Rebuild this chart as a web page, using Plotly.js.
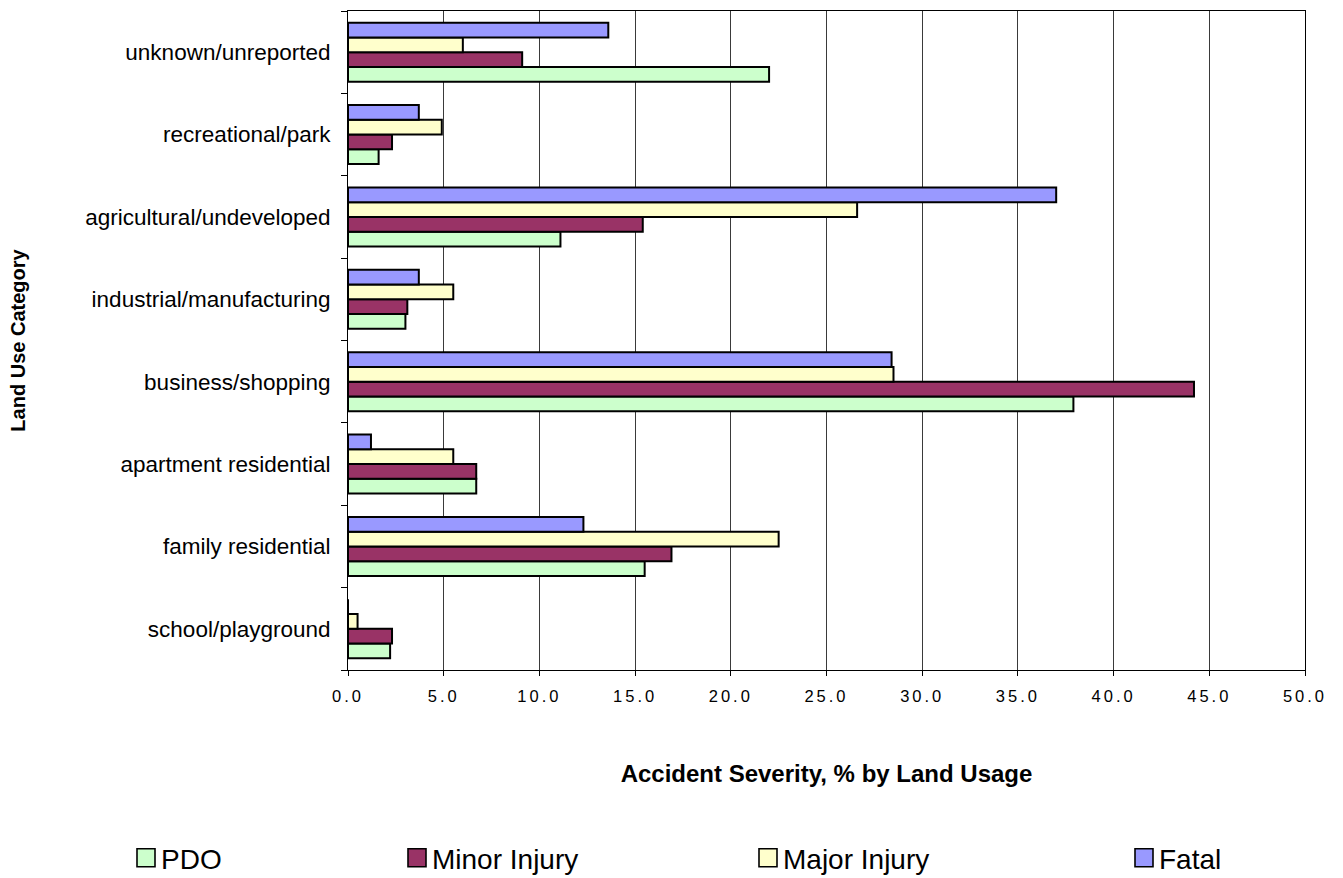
<!DOCTYPE html>
<html>
<head>
<meta charset="utf-8">
<script src="https://cdn.plot.ly/plotly-3.0.1.min.js"></script>
<style>
  html, body { margin: 0; padding: 0; background: #fff; }
  #chart { width: 1343px; height: 878px; }
  .xtick text { letter-spacing: 3px; }
</style>
</head>
<body>
<div id="chart"></div>
<script>
const categories = ['school/playground', 'family residential', 'apartment residential', 'business/shopping',
  'industrial/manufacturing', 'agricultural/undeveloped', 'recreational/park', 'unknown/unreported'];
const seriesNames = ['PDO', 'Minor Injury', 'Major Injury', 'Fatal'];
const pdo   = [2.2, 15.5, 6.7, 37.9, 3.0, 11.1, 1.6, 22.0];
const minor = [2.3, 16.9, 6.7, 44.2, 3.1, 15.4, 2.3, 9.1];
const major = [0.5, 22.5, 5.5, 28.5, 5.5, 26.6, 4.9, 6.0];
const fatal = [0.0, 12.3, 1.2, 28.4, 3.7, 37.0, 3.7, 13.6];
const xTickVals = [0, 5, 10, 15, 20, 25, 30, 35, 40, 45, 50];

const seriesValues = [pdo, minor, major, fatal];
const colors = ['#CCFFCC', '#993366', '#FFFFCC', '#9999FF'];
const legendIds = ['legend', 'legend2', 'legend3', 'legend4'];
const legendX = [121, 392, 743, 1119];

const FONT = 'Liberation Sans, Arial, Helvetica, sans-serif';

const traces = seriesNames.map((name, i) => ({
  type: 'bar',
  orientation: 'h',
  name: name,
  x: seriesValues[i],
  y: categories,
  marker: { color: colors[i], line: { color: '#000000', width: 2 } },
  legend: legendIds[i],
  showlegend: true,
  hoverinfo: 'x+name'
}));

const layout = {
  width: 1343,
  height: 878,
  margin: { l: 348, r: 38, t: 11, b: 208 },
  paper_bgcolor: '#ffffff',
  plot_bgcolor: '#ffffff',
  font: { family: FONT, color: '#000000' },
  showlegend: true,
  barmode: 'group',
  bargap: 0.284,
  bargroupgap: 0,
  xaxis: {
    range: [0, 50],
    tickvals: xTickVals,
    tickformat: '.1f',
    showgrid: true,
    gridcolor: '#3a3a3a',
    gridwidth: 1,
    zeroline: false,
    showline: true,
    linecolor: '#000000',
    linewidth: 1,
    mirror: true,
    ticks: 'outside',
    ticklen: 5,
    tickcolor: '#000000',
    ticklabelstandoff: 6,
    tickfont: { family: FONT, size: 16.5, color: '#000000' },
    title: {
      text: 'Accident Severity, % by Land Usage',
      font: { family: FONT, size: 24, color: '#000000', weight: 'bold' },
      standoff: 61
    }
  },
  yaxis: {
    type: 'category',
    categoryorder: 'array',
    categoryarray: categories,
    showgrid: false,
    zeroline: false,
    showline: true,
    linecolor: '#000000',
    linewidth: 1,
    mirror: true,
    ticks: 'outside',
    tickson: 'boundaries',
    ticklen: 6,
    tickcolor: '#000000',
    ticklabelstandoff: 12,
    tickfont: { family: FONT, size: 22.5, color: '#000000' },
    title: {
      text: 'Land Use Category',
      font: { family: FONT, size: 20, color: '#000000', weight: 'bold' },
      standoff: 54
    }
  }
};

legendIds.forEach((id, i) => {
  layout[id] = {
    visible: true,
    orientation: 'h',
    xref: 'container',
    yref: 'container',
    x: legendX[i] / 1343,
    y: 1 - 858 / 878,
    xanchor: 'left',
    yanchor: 'middle',
    bgcolor: 'rgba(0,0,0,0)',
    borderwidth: 0,
    font: { family: FONT, size: 28, color: '#000000' },
    itemwidth: 30
  };
});

Plotly.newPlot('chart', traces, layout, { displayModeBar: false, staticPlot: true }).then(gd => {
  gd.querySelectorAll('g.legendpoints path').forEach(p => {
    const base = p.getAttribute('transform') || '';
    p.setAttribute('transform', base + ' translate(5,0) scale(1.5)');
    p.style.vectorEffect = 'non-scaling-stroke';
    p.style.strokeWidth = '1.6px';
  });
});
</script>
</body>
</html>
